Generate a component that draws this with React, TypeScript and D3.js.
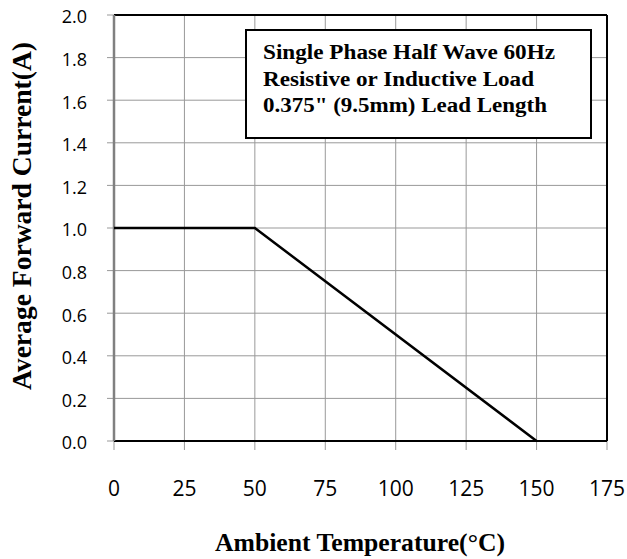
import React from 'react';
import * as d3 from 'd3';

// derating curve
const temps = [0, 50, 150];
const current = [1.0, 1.0, 0.0];

const xTicks = [0, 25, 50, 75, 100, 125, 150, 175];
const yTicks = [0, 0.2, 0.4, 0.6, 0.8, 1.0, 1.2, 1.4, 1.6, 1.8, 2.0];

const noteLines = [
  'Single Phase Half Wave 60Hz',
  'Resistive or Inductive Load',
  '0.375" (9.5mm) Lead Length',
];
const noteWidths = [292, 271, 284];

const xTitle = 'Ambient Temperature(°C)';
const yTitle = 'Average Forward Current(A)';

const App = () => {
  const width = 627;
  const height = 559;
  const margin = { top: 15, right: 20, bottom: 118, left: 114 };
  const innerW = width - margin.left - margin.right;
  const innerH = height - margin.top - margin.bottom;

  const x = d3.scaleLinear().domain([0, 175]).range([0, innerW]);
  const y = d3.scaleLinear().domain([0, 2]).range([innerH, 0]);

  const line = d3.line<number>()
    .x((_, i) => x(temps[i]))
    .y(d => y(d));

  const sans = '"Open Sans", "Noto Sans", sans-serif';
  const serif = '"Liberation Serif", "Times New Roman", serif';

  return (
    <svg width={width} height={height} style={{ position: 'absolute', left: 0, top: 0 }}>
      <rect width={width} height={height} fill="#fff" />
      <g transform={`translate(${margin.left},${margin.top})`}>
        {/* grid */}
        {xTicks.map(t => (
          <line key={'gx' + t} x1={x(t)} x2={x(t)} y1={0} y2={innerH + 9} stroke="#999" strokeWidth={1} />
        ))}
        {yTicks.map(t => (
          <line key={'gy' + t} x1={-7} x2={innerW} y1={y(t)} y2={y(t)} stroke="#999" strokeWidth={1} />
        ))}

        {/* frame */}
        <line x1={0} x2={innerW} y1={0} y2={0} stroke="#000" strokeWidth={2} />
        <line x1={innerW} x2={innerW} y1={0} y2={innerH} stroke="#000" strokeWidth={2} />
        <line x1={0} x2={innerW} y1={innerH} y2={innerH} stroke="#000" strokeWidth={2} />
        <line x1={0} x2={0} y1={0} y2={innerH} stroke="#808080" strokeWidth={2.5} />

        {/* tick labels */}
        {xTicks.map(t => (
          <text key={'tx' + t} x={x(t)} y={innerH + 55} textAnchor="middle" fontFamily={sans} fontSize={21} fill="#000">
            {t}
          </text>
        ))}
        {yTicks.map(t => (
          <text key={'ty' + t} x={-27} y={y(t) + 2} dy="0.35em" textAnchor="end" fontFamily={sans} fontSize={18} fill="#000">
            {t.toFixed(1)}
          </text>
        ))}

        {/* curve */}
        <path d={line(current) || ''} fill="none" stroke="#000" strokeWidth={2.5} />

        {/* note box */}
        <rect x={132} y={15} width={345} height={108} fill="#fff" stroke="#000" strokeWidth={2} />
        {noteLines.map((s, i) => (
          <text
            key={s}
            x={149}
            y={44 + i * 26.5}
            fontFamily={serif}
            fontWeight="bold"
            fontSize={20.5}
            textLength={noteWidths[i]}
            lengthAdjust="spacingAndGlyphs"
            fill="#000"
          >
            {s}
          </text>
        ))}
      </g>

      <text
        x={360}
        y={551}
        textAnchor="middle"
        fontFamily={serif}
        fontWeight="bold"
        fontSize={25}
        textLength={290}
        lengthAdjust="spacingAndGlyphs"
        fill="#000"
      >
        {xTitle}
      </text>
      <text
        transform={`translate(31,216) rotate(-90)`}
        textAnchor="middle"
        fontFamily={serif}
        fontWeight="bold"
        fontSize={27}
        textLength={348}
        lengthAdjust="spacingAndGlyphs"
        fill="#000"
      >
        {yTitle}
      </text>
    </svg>
  );
};

export default App;
